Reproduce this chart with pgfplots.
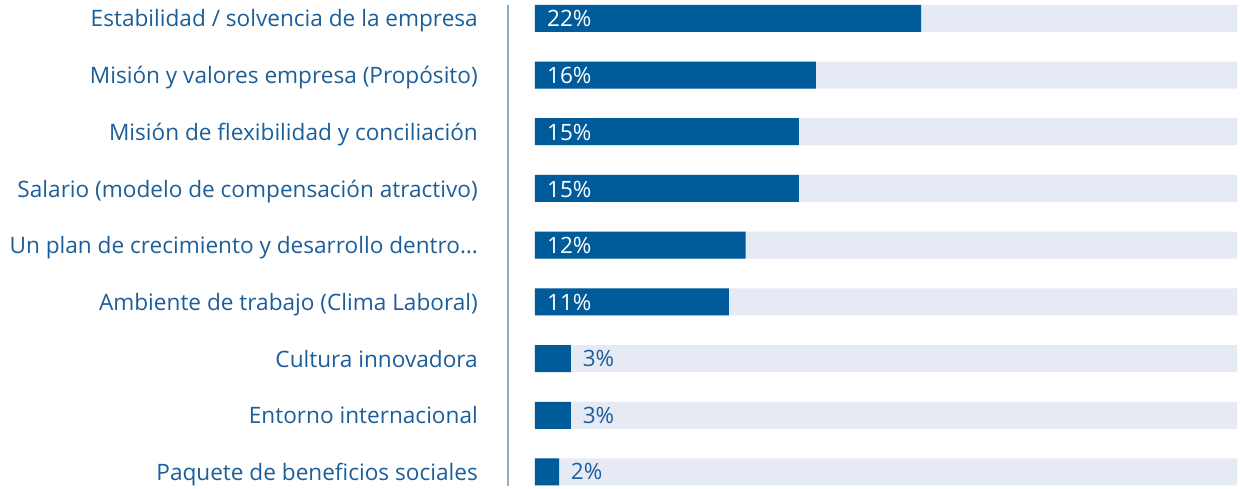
\documentclass[border=0pt]{standalone}
\usepackage{pgfplots}
\pgfplotsset{compat=1.18}
\usepackage{fontspec}
\setmainfont{Open Sans}

\definecolor{barblue}{HTML}{005B9A}
\definecolor{bgbar}{HTML}{E6EAF4}
\definecolor{txtblue}{HTML}{1B5E9A}
\definecolor{sepline}{HTML}{8DAFCB}

\begin{document}
\begin{tikzpicture}
\path[use as bounding box] (0pt,0pt) rectangle (1240pt,489pt);
\draw[sepline, line width=1.6pt] (508pt,3pt) -- (508pt,484pt);
\begin{axis}[
    at={(535pt,0pt)}, anchor=south west,
    scale only axis,
    width=702pt, height=489pt,
    xmin=0, xmax=40,
    ymin=-0.323, ymax=8.30,
    y dir=reverse,
    axis line style={draw=none},
    xtick=\empty,
    ytick={0,1,2,3,4,5,6,7,8},
    yticklabels={
        Estabilidad / solvencia de la empresa,
        Misión y valores empresa (Propósito),
        Misión de flexibilidad y conciliación,
        Salario (modelo de compensación atractivo),
        {Un plan de crecimiento y desarrollo dentro…},
        Ambiente de trabajo (Clima Laboral),
        Cultura innovadora,
        Entorno internacional,
        Paquete de beneficios sociales},
    major tick length=0pt,
    yticklabel style={font=\fontsize{22.6}{26}\selectfont, text=txtblue,
        anchor=base east, inner sep=0pt, xshift=-57pt, yshift=-8.6pt},
    clip=false,
]
% background tracks
\addplot[xbar, bar width=27pt, bar shift=0pt, fill=bgbar, draw=none]
    coordinates {(40,0) (40,1) (40,2) (40,3) (40,4) (40,5) (40,6) (40,7) (40,8)};
% large bars, label inside
\addplot[xbar, bar width=27pt, bar shift=0pt, fill=barblue, draw=none]
    coordinates {(22,0) (16,1) (15.04,2) (15.04,3) (12,4) (11.05,5)};
% small bars, label outside
\addplot[xbar, bar width=27pt, bar shift=0pt, fill=barblue, draw=none,
    nodes near coords, point meta=explicit symbolic,
    every node near coord/.append style={anchor=base west, inner sep=0pt, xshift=11.7pt,
        yshift=-8pt, text=txtblue, font=\fontsize{22.5}{26}\selectfont}]
    coordinates {(2.05,6)[3\%] (2.05,7)[3\%] (1.37,8)[2\%]};
% inside labels
\addplot[only marks, mark=none,
    nodes near coords, point meta=explicit symbolic,
    every node near coord/.append style={anchor=base west, inner sep=0pt, xshift=12pt,
        yshift=-8.6pt, text=white, font=\fontsize{22.5}{26}\selectfont}]
    coordinates {(0,0)[22\%] (0,1)[16\%] (0,2)[15\%] (0,3)[15\%] (0,4)[12\%] (0,5)[11\%]};
\end{axis}
\end{tikzpicture}
\end{document}
